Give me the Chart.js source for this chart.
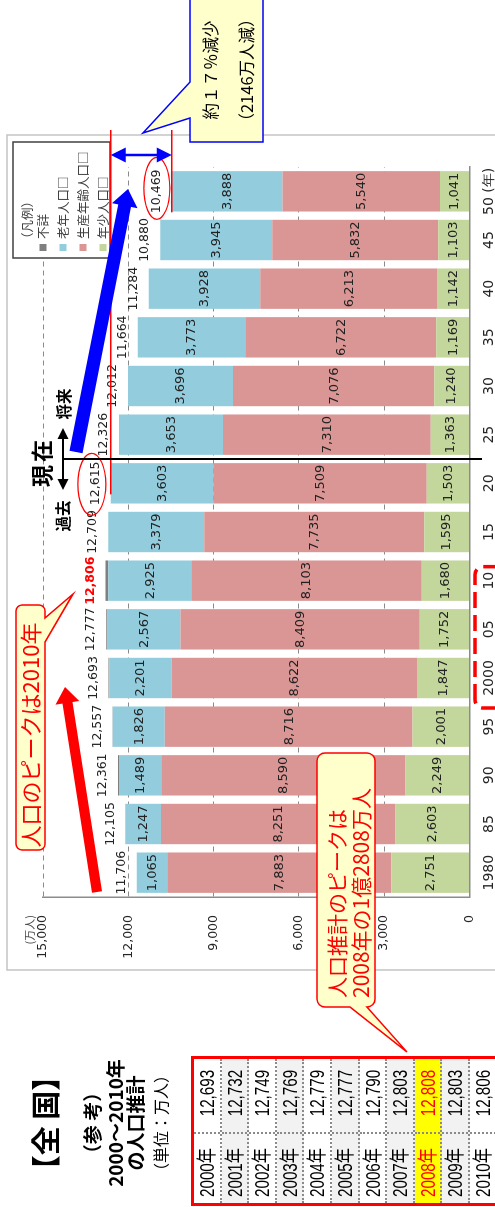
<!DOCTYPE html>
<html lang="ja">
<head>
<meta charset="utf-8">
<script src="https://cdn.jsdelivr.net/npm/chart.js@4.4.0/dist/chart.umd.min.js"></script>
<style>
html, body { margin: 0; padding: 0; background: #fff; overflow: hidden; }
/* 元の横長ページ(1207x495)を作って左へ90°回す */
#page { position: absolute; left: 0; top: 0; width: 1207px; height: 495px;
  transform-origin: 0 0; transform: translateY(1207px) rotate(-90deg);
  background: #fff; overflow: hidden; font-family: "Noto Sans CJK JP", sans-serif; }
#c { position: absolute; left: 0; top: 0; }
.ttl { position: absolute; left: 0; width: 168px; text-align: center; font-weight: bold; color: #000; white-space: nowrap; }
#tbl { position: absolute; left: 1px; top: 191px; width: 150px; height: 330px; box-sizing: border-box;
  border: 3px solid #ff0000; box-shadow: inset 0 0 0 1px #000; }
.row { position: relative; height: 27.6px; box-sizing: border-box; border-bottom: 2px dotted #8a8a8a;
  font-family: "Liberation Sans", "Noto Sans CJK JP", sans-serif;
  font-size: 20px; line-height: 26px; color: #000; white-space: nowrap; }
.row .yr { position: absolute; left: 0; top: 0; width: 71px; height: 100%; box-sizing: border-box;
  border-right: 2px dotted #8a8a8a; padding-left: 6px; }
.row .val { position: absolute; left: 71px; right: 0; top: 0; height: 100%; text-align: right; padding-right: 11px; }
.row span { display: inline-block; transform: scaleX(0.76); }
.row .yr span { transform-origin: left center; }
.row .val span { transform-origin: right center; }
</style>
</head>
<body>
<div id="page">
  <canvas id="c" width="1207" height="495"></canvas>
  <div class="ttl" style="top:26px;font-size:29px;line-height:36px;">【全 国】</div>
  <div class="ttl" style="top:80px;font-size:19px;line-height:24px;">（参 考）</div>
  <div class="ttl" style="top:103px;font-size:19px;line-height:24px;">2000～2010年</div>
  <div class="ttl" style="top:123px;font-size:19px;line-height:24px;">の人口推計</div>
  <div class="ttl" style="top:150px;font-size:16px;line-height:20px;font-weight:normal;">（単位：万人）</div>
  <div id="tbl"></div>
</div>
<script>
// 年齢3区分別人口の推移(万人)  1980〜2050年
const years   = ['1980', '85', '90', '95', '2000', '05', '10', '15', '20', '25', '30', '35', '40', '45', '50 (年)'];
const youth   = [2751, 2603, 2249, 2001, 1847, 1752, 1680, 1595, 1503, 1363, 1240, 1169, 1142, 1103, 1041];
const working = [7883, 8251, 8590, 8716, 8622, 8409, 8103, 7735, 7509, 7310, 7076, 6722, 6213, 5832, 5540];
const elderly = [1065, 1247, 1489, 1826, 2201, 2567, 2925, 3379, 3603, 3653, 3696, 3773, 3928, 3945, 3888];
const unknown = [7, 4, 33, 14, 23, 49, 98, 0, 0, 0, 0, 0, 0, 0, 0];
const totals  = [11706, 12105, 12361, 12557, 12693, 12777, 12806, 12709, 12615, 12326, 12012, 11664, 11284, 10880, 10469];
const yTicks  = [0, 3000, 6000, 9000, 12000, 15000];
const seriesNames  = ['年少人口', '生産年齢人口', '老年人口', '不詳'];
const seriesColors = ['#c3d69b', '#d99694', '#93cddd', '#7f7f7f'];

// 参考表: 2000〜2010年の人口推計
const tableYears  = ['2000年', '2001年', '2002年', '2003年', '2004年', '2005年', '2006年', '2007年', '2008年', '2009年', '2010年'];
const tableValues = [12693, 12732, 12749, 12769, 12779, 12777, 12790, 12803, 12808, 12803, 12806];

const PEAK = 6;      // 2010年
const NOW = 8;       // 2020年(現在)
const LAST = 14;     // 2050年
const NUMFONT = '"DejaVu Sans", sans-serif';
const JPFONT = '"Noto Sans CJK JP", sans-serif';
const fmt = v => v.toLocaleString('en-US');

// ── 表 ──
document.getElementById('tbl').innerHTML = tableYears.map((y, i) => {
  const hl = i === 8;
  const bg = hl ? '#ffff00' : (i % 2 ? '#f2f2f2' : '#ffffff');
  const col = hl ? '#ff0000' : '#000';
  return `<div class="row" style="background:${bg};color:${col}"><div class="yr"><span>${y}</span></div><div class="val"><span>${fmt(tableValues[i])}</span></div></div>`;
}).join('');

// ── 描画ヘルパ ──
function thickArrow(c, x1, y1, x2, y2, w, hw, hl, color) {
  const L = Math.hypot(x2 - x1, y2 - y1), ux = (x2 - x1) / L, uy = (y2 - y1) / L;
  const nx = -uy, ny = ux, bx = x2 - ux * hl, by = y2 - uy * hl;
  c.beginPath();
  c.moveTo(x1 + nx * w / 2, y1 + ny * w / 2);
  c.lineTo(bx + nx * w / 2, by + ny * w / 2);
  c.lineTo(bx + nx * hw / 2, by + ny * hw / 2);
  c.lineTo(x2, y2);
  c.lineTo(bx - nx * hw / 2, by - ny * hw / 2);
  c.lineTo(bx - nx * w / 2, by - ny * w / 2);
  c.lineTo(x1 - nx * w / 2, y1 - ny * w / 2);
  c.closePath();
  c.fillStyle = color;
  c.fill();
}

function head(c, x, y, ux, uy, hw, hl, color) {
  const nx = -uy, ny = ux;
  c.beginPath();
  c.moveTo(x, y);
  c.lineTo(x - ux * hl + nx * hw / 2, y - uy * hl + ny * hw / 2);
  c.lineTo(x - ux * hl - nx * hw / 2, y - uy * hl - ny * hw / 2);
  c.closePath();
  c.fillStyle = color;
  c.fill();
}

function doubleArrow(c, x1, y1, x2, y2, lw, hw, hl, color) {
  const L = Math.hypot(x2 - x1, y2 - y1), ux = (x2 - x1) / L, uy = (y2 - y1) / L;
  c.strokeStyle = color; c.lineWidth = lw;
  c.beginPath();
  c.moveTo(x1 + ux * hl * 0.8, y1 + uy * hl * 0.8);
  c.lineTo(x2 - ux * hl * 0.8, y2 - uy * hl * 0.8);
  c.stroke();
  head(c, x2, y2, ux, uy, hw, hl, color);
  head(c, x1, y1, -ux, -uy, hw, hl, color);
}

// 吹き出し: 角丸矩形 + 指し示し三角 (edge の a..b から tip へ)
function calloutPath(c, x, y, w, h, r, p) {
  c.beginPath();
  c.moveTo(x + r, y);
  if (p.edge === 'top') { c.lineTo(p.a, y); c.lineTo(p.tx, p.ty); c.lineTo(p.b, y); }
  c.lineTo(x + w - r, y);
  c.arcTo(x + w, y, x + w, y + r, r);
  c.lineTo(x + w, y + h - r);
  c.arcTo(x + w, y + h, x + w - r, y + h, r);
  if (p.edge === 'bottom') { c.lineTo(p.b, y + h); c.lineTo(p.tx, p.ty); c.lineTo(p.a, y + h); }
  c.lineTo(x + r, y + h);
  c.arcTo(x, y + h, x, y + h - r, r);
  if (p.edge === 'left') { c.lineTo(x, p.b); c.lineTo(p.tx, p.ty); c.lineTo(x, p.a); }
  c.lineTo(x, y + r);
  c.arcTo(x, y, x + r, y, r);
  c.closePath();
}

function drawCallout(c, box, p, stroke) {
  calloutPath(c, box.x, box.y, box.w, box.h, box.r, p);
  c.fillStyle = '#ffffcc';
  c.fill();
  c.lineWidth = 1.5;
  c.strokeStyle = stroke;
  c.stroke();
}

const overlay = {
  id: 'overlay',
  beforeDraw(chart) {
    const c = chart.ctx;
    c.save();
    c.fillStyle = '#fff';
    c.fillRect(0, 0, chart.width, chart.height);
    c.strokeStyle = '#c4c4c4';
    c.lineWidth = 1.5;
    c.strokeRect(237, 7, 835, 560);   // グラフ枠
    c.restore();
  },
  afterDatasetsDraw(chart) {
    const c = chart.ctx, ys = chart.scales.y;
    c.save();
    c.textAlign = 'center';
    c.textBaseline = 'middle';
    // 各区分の値
    c.font = '13px ' + NUMFONT;
    c.fillStyle = '#222';
    [0, 1, 2].forEach(di => {
      const vals = chart.data.datasets[di].data;
      chart.getDatasetMeta(di).data.forEach((bar, j) => {
        c.fillText(fmt(vals[j]), bar.x, (bar.y + bar.base) / 2 + 0.5);
      });
    });
    // 総数
    chart.getDatasetMeta(0).data.forEach((bar, j) => {
      const pk = j === PEAK;
      c.font = (pk ? 'bold ' : '') + '12.5px ' + NUMFONT;
      c.fillStyle = pk ? '#ff0000' : '#222';
      c.fillText(fmt(totals[j]), bar.x, ys.getPixelForValue(totals[j]) - 15);
    });
    // 単位
    c.font = '11px ' + JPFONT;
    c.fillStyle = '#444';
    c.textAlign = 'right';
    c.fillText('(万人)', 292, 30);
    c.restore();
  },
  afterDraw(chart) {
    const c = chart.ctx, xs = chart.scales.x, ys = chart.scales.y;
    const px = i => xs.getPixelForValue(i);
    const yNow = ys.getPixelForValue(totals[NOW]);
    const yEnd = ys.getPixelForValue(totals[LAST]);
    c.save();

    // 凡例
    c.fillStyle = '#fff';
    c.fillRect(949, 13, 116, 97);
    c.strokeStyle = '#404040';
    c.lineWidth = 1.5;
    c.strokeRect(949, 13, 116, 97);
    c.font = '12.5px ' + JPFONT;
    c.textBaseline = 'middle';
    c.textAlign = 'left';
    c.fillStyle = '#404040';
    c.fillText('（凡例）', 962, 27);
    const ds = chart.data.datasets;
    [3, 2, 1, 0].forEach((di, k) => {
      const yy = 43 + k * 20;
      c.fillStyle = ds[di].backgroundColor;
      c.fillRect(956, yy - 3.5, 7, 7);
      c.fillStyle = '#404040';
      c.fillText(ds[di].label + (di === 3 ? '' : '□'), 968, yy);
    });

    // 赤の基準線と楕円
    c.strokeStyle = '#ff0000';
    c.lineWidth = 1.5;
    c.beginPath();
    c.moveTo(px(NOW) - 11, yNow); c.lineTo(1077, yNow);
    c.moveTo(px(LAST) - 21, yEnd); c.lineTo(1077, yEnd);
    c.stroke();
    c.lineWidth = 1.2;
    c.beginPath();
    c.ellipse(px(NOW) - 1, yNow - 19, 31, 14, 0, 0, Math.PI * 2);
    c.stroke();
    c.beginPath();
    c.ellipse(px(LAST) + 3, yEnd - 15, 31, 13, 0, 0, Math.PI * 2);
    c.stroke();

    // 減少幅の両矢印
    doubleArrow(c, 1052, yNow, 1052, yEnd, 2.5, 15, 15, '#0000ff');

    // 現在の区切り
    const xDiv = (px(NOW) + px(NOW + 1)) / 2;
    c.strokeStyle = '#000';
    c.lineWidth = 2;
    c.beginPath();
    c.moveTo(xDiv, 63); c.lineTo(xDiv, 482);
    c.stroke();
    doubleArrow(c, xDiv - 31, 63, xDiv + 31, 63, 2, 11, 11, '#000');
    c.fillStyle = '#000';
    c.textAlign = 'center';
    c.font = 'bold 22px ' + JPFONT;
    c.fillText('現', xDiv - 17, 42);
    c.fillText('在', xDiv + 8, 42);
    c.font = 'bold 15.5px ' + JPFONT;
    c.fillText('将来', xDiv + 55, 64);
    c.fillText('過去', xDiv - 57, 63);

    // 太い矢印
    thickArrow(c, 755, 76, 1018, 128, 13, 26, 17, '#0000ff');
    thickArrow(c, 315, 97, 520, 65, 10, 24, 16, '#ff0000');

    // 吹き出し: 人口のピークは2010年
    drawCallout(c, { x: 357, y: 16, w: 245, h: 29, r: 6 },
      { edge: 'bottom', a: 565, b: 589, tx: 613, ty: 73 }, '#ff0000');
    c.fillStyle = '#ff0000';
    c.font = '22px ' + JPFONT;
    c.textAlign = 'center';
    c.fillText('人口のピークは2010年', 472, 31);

    // 吹き出し: 人口推計のピーク
    drawCallout(c, { x: 200, y: 317, w: 254, h: 58, r: 8 },
      { edge: 'left', a: 350, b: 367, tx: 155, ty: 407 }, '#ff0000');
    c.fillStyle = '#ff0000';
    c.font = '21px ' + JPFONT;
    c.textAlign = 'left';
    c.fillText('人口推計のピークは', 209, 337);
    c.fillText('2008年の1億2808万人', 209, 361);

    // 吹き出し: 約17%減少
    drawCallout(c, { x: 1065, y: 190, w: 146, h: 73, r: 0 },
      { edge: 'top', a: 1089, b: 1125, tx: 1074, ty: 143 }, '#0000ff');
    c.fillStyle = '#000';
    c.font = '16.5px ' + JPFONT;
    c.textAlign = 'center';
    c.fillText('約１７％減少', 1137, 211);
    c.fillText('（2146万人減）', 1137, 247);

    // 2000〜2010年の目盛を囲む赤点線
    c.strokeStyle = '#ff0000';
    c.lineWidth = 3.5;
    c.setLineDash([16, 7]);
    c.beginPath();
    c.roundRect(px(4) - 30, 475, px(6) - px(4) + 44, 40, 8);
    c.stroke();
    c.setLineDash([]);

    c.restore();
  }
};

new Chart(document.getElementById('c'), {
  type: 'bar',
  data: {
    labels: years,
    datasets: [youth, working, elderly, unknown].map((d, i) => ({
      label: seriesNames[i],
      data: d,
      backgroundColor: seriesColors[i],
      borderWidth: 0,
      barPercentage: 0.83,
      categoryPercentage: 1.0,
    })),
  },
  options: {
    responsive: false,
    animation: false,
    devicePixelRatio: 1,
    layout: { padding: { left: 237, right: 167, top: 43, bottom: 0 } },
    plugins: { legend: { display: false }, tooltip: { enabled: false } },
    scales: {
      x: {
        stacked: true,
        grid: { display: false, drawTicks: false },
        border: { color: '#8c8c8c', width: 1.5 },
        ticks: { color: '#262626', font: { family: 'DejaVu Sans', size: 14 }, padding: 11, maxRotation: 0, autoSkip: false },
        afterFit: s => { s.height = 25; },
      },
      y: {
        stacked: true,
        min: 0,
        max: 15000,
        afterBuildTicks: s => { s.ticks = yTicks.map(v => ({ value: v })); },
        grid: { color: '#8a8a8a', lineWidth: 1, drawTicks: false },
        border: { color: '#8c8c8c', width: 1.5, dash: [5, 4] },
        ticks: { color: '#262626', font: { family: 'DejaVu Sans', size: 12.5 }, padding: 18, callback: v => fmt(v) },
        afterFit: s => { s.width = 73; },
      },
    },
  },
  plugins: [overlay],
});
</script>
</body>
</html>
